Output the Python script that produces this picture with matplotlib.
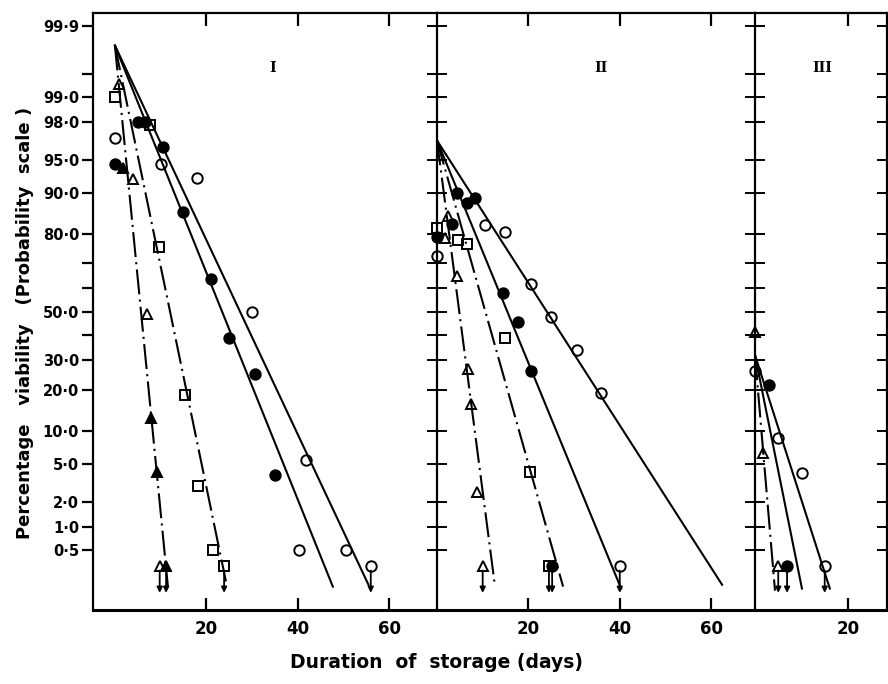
import matplotlib
matplotlib.use("Agg")
import matplotlib.pyplot as plt
import numpy as np
from statistics import NormalDist

# ---- panel I ----
p1_oc_day = [0, 10, 18, 30, 41.8, 40.3, 50.5]
p1_oc_pct = [97, 94.5, 92.6, 50, 5.5, 0.5, 0.5]
p1_oc_zero = [56]
p1_fc_day = [0, 5, 6.6, 10.5, 14.9, 21, 25, 30.6, 35]
p1_fc_pct = [94.5, 98, 98, 96.3, 86, 64, 39, 25, 3.9]
p1_fc_zero = []
p1_os_day = [0, 7.7, 9.6, 15.3, 18.2, 21.4]
p1_os_pct = [99, 97.8, 76, 18.5, 3, 0.5]
p1_os_zero = [23.9]
p1_ot_day = [0.9, 3.9, 7.0]
p1_ot_pct = [99.3, 92.5, 49]
p1_ot_zero = [9.8]
p1_ft_day = [1.75, 7.9, 9.2]
p1_ft_pct = [94, 12.7, 4.2]
p1_ft_zero = [11.2]
# fitted lines: start (day, %) and end (day, %)
p1_start = (0, 99.8)
p1_line_end_day = [55.5, 47.7, 24.3, 11.6]
p1_line_end_pct = [0.16, 0.15, 0.18, 0.15]
p1_line_style = ['solid', 'solid', 'dashdot', 'dashdot']

# ---- panel II ----
p2_oc_day = [0, 10.5, 14.9, 20.6, 24.9, 30.6, 35.9]
p2_oc_pct = [72.6, 82.5, 80.5, 62, 48, 34, 19]
p2_oc_zero = [40]
p2_fc_day = [0, 3.3, 4.4, 6.6, 8.3, 14.4, 17.7, 20.6]
p2_fc_pct = [79, 83, 90, 88, 89, 58, 45.5, 26]
p2_fc_zero = [25.2]
p2_os_day = [0, 4.6, 6.6, 14.9, 20.4]
p2_os_pct = [81.7, 78, 77, 39, 4.2]
p2_os_zero = [24.5]
p2_ot_day = [1.75, 2.4, 4.4, 6.8, 7.4, 8.75]
p2_ot_pct = [78.7, 85, 65, 27, 16, 2.6]
p2_ot_zero = [10]
p2_start = (0, 96.8)
p2_line_end_day = [62.4, 40.3, 27.6, 12.7]
p2_line_end_pct = [0.16, 0.14, 0.15, 0.15]
p2_line_style = ['solid', 'solid', 'dashdot', 'dashdot']

# ---- panel III ----
p3_oc_day = [0, 5, 10.1]
p3_oc_pct = [26, 8.6, 4.1]
p3_oc_zero = [15]
p3_fc_day = [3]
p3_fc_pct = [21.6]
p3_fc_zero = [6.9]
p3_ot_day = [0, 1.7]
p3_ot_pct = [41.5, 6.4]
p3_ot_zero = [5]
p3_start = (0, 32)
p3_line_end_day = [16.1, 10.1, 4.3]
p3_line_end_pct = [0.14, 0.14, 0.13]
p3_line_style = ['solid', 'solid', 'dashdot']

zero_pct = 0.3
y_ticks = [0.5, 1, 2, 5, 10, 20, 30, 40, 50, 60, 70, 80, 90, 95, 98, 99, 99.5, 99.9]
y_labels = ['0·5', '1·0', '2·0', '5·0', '10·0', '20·0', '30·0', '', '50·0', '', '',
            '80·0', '90·0', '95·0', '98·0', '99·0', '', '99·9']

nd = NormalDist()


def probit(p):
    p = np.clip(np.asarray(p, dtype=float) / 100.0, 1e-9, 1 - 1e-9)
    return np.vectorize(nd.inv_cdf, otypes=[float])(p)


def inv_probit(z):
    z = np.asarray(z, dtype=float)
    return np.vectorize(nd.cdf, otypes=[float])(z) * 100.0


marker_style = {
    'oc': dict(marker='o', mfc='none', mec='k'),
    'fc': dict(marker='o', mfc='k', mec='k'),
    'os': dict(marker='s', mfc='none', mec='k'),
    'ot': dict(marker='^', mfc='none', mec='k'),
    'ft': dict(marker='^', mfc='k', mec='k'),
}

fig = plt.figure(figsize=(8.88, 6.84), dpi=100)
bottom = 1 - 610 / 684
height = (610 - 13) / 684
ax1 = fig.add_axes([93 / 888, bottom, (437 - 93) / 888, height])
ax2 = fig.add_axes([437 / 888, bottom, (755 - 437) / 888, height])
ax3 = fig.add_axes([755 / 888, bottom, (887 - 755) / 888, height])

ax1.set_xlim(-4.8, 70.5)
ax2.set_xlim(0, 69.6)
ax3.set_xlim(0, 28.4)


def draw_lines(ax, start, end_day, end_pct, styles):
    for d, p, s in zip(end_day, end_pct, styles):
        ln, = ax.plot([start[0], d], [start[1], p], color='k', lw=1.5, zorder=2)
        if s == 'dashdot':
            ln.set_dashes([12, 2.5, 1, 2.5])


def draw_points(ax, key, days, pcts, zeros):
    st = marker_style[key]
    ax.plot(days, pcts, ls='none', ms=7.5, mew=1.4, zorder=3, clip_on=False, **st)
    if zeros:
        ax.plot(zeros, [zero_pct] * len(zeros), ls='none', ms=7.5, mew=1.4, zorder=3, **st)
        for d in zeros:
            ax.annotate('', xy=(d, 0.12), xytext=(d, 0.26),
                        arrowprops=dict(arrowstyle='-|>', color='k', lw=1.3,
                                        mutation_scale=8, shrinkA=0, shrinkB=0))


draw_lines(ax1, p1_start, p1_line_end_day, p1_line_end_pct, p1_line_style)
draw_points(ax1, 'oc', p1_oc_day, p1_oc_pct, p1_oc_zero)
draw_points(ax1, 'fc', p1_fc_day, p1_fc_pct, p1_fc_zero)
draw_points(ax1, 'os', p1_os_day, p1_os_pct, p1_os_zero)
draw_points(ax1, 'ot', p1_ot_day, p1_ot_pct, p1_ot_zero)
draw_points(ax1, 'ft', p1_ft_day, p1_ft_pct, p1_ft_zero)

draw_lines(ax2, p2_start, p2_line_end_day, p2_line_end_pct, p2_line_style)
draw_points(ax2, 'oc', p2_oc_day, p2_oc_pct, p2_oc_zero)
draw_points(ax2, 'fc', p2_fc_day, p2_fc_pct, p2_fc_zero)
draw_points(ax2, 'os', p2_os_day, p2_os_pct, p2_os_zero)
draw_points(ax2, 'ot', p2_ot_day, p2_ot_pct, p2_ot_zero)

draw_lines(ax3, p3_start, p3_line_end_day, p3_line_end_pct, p3_line_style)
draw_points(ax3, 'oc', p3_oc_day, p3_oc_pct, p3_oc_zero)
draw_points(ax3, 'fc', p3_fc_day, p3_fc_pct, p3_fc_zero)
draw_points(ax3, 'ot', p3_ot_day, p3_ot_pct, p3_ot_zero)

for ax in (ax1, ax2, ax3):
    ax.set_yscale('function', functions=(probit, inv_probit))
    ax.set_ylim(0.064, 99.938)
    ax.set_yticks(y_ticks)
    for sp in ax.spines.values():
        sp.set_linewidth(1.6)
    ax.spines['bottom'].set_linewidth(2.2)
    ax.tick_params(axis='x', which='both', top=True, bottom=True, direction='in',
                   length=9, width=1.6, labelsize=12, pad=7)
    ax.minorticks_off()

ax1.set_xticks([20, 40, 60])
ax2.set_xticks([20, 40, 60])
ax3.set_xticks([20])
for ax in (ax1, ax2, ax3):
    ax.set_xticklabels([str(int(t)) for t in ax.get_xticks()], fontweight='bold', fontsize=12)

ax1.set_yticklabels(y_labels, fontweight='bold', fontsize=10.5)
ax1.tick_params(axis='y', which='both', left=True, right=False, direction='out',
                length=8, width=1.6, pad=2)
ax1.spines['right'].set_visible(False)

ax2.set_yticklabels([])
ax2.tick_params(axis='y', which='both', left=True, right=False, direction='inout',
                length=14, width=1.4)
ax2.spines['right'].set_visible(False)

ax3.set_yticklabels([])
ax3.tick_params(axis='y', which='both', left=True, right=True, direction='inout',
                length=14, width=1.4)

ax1.text(0.523, 0.908, 'I', transform=ax1.transAxes, ha='center', va='center',
         family='DejaVu Serif', fontweight='bold', fontsize=10)
ax2.text(0.516, 0.908, 'II', transform=ax2.transAxes, ha='center', va='center',
         family='DejaVu Serif', fontweight='bold', fontsize=10)
ax3.text(0.51, 0.908, 'III', transform=ax3.transAxes, ha='center', va='center',
         family='DejaVu Serif', fontweight='bold', fontsize=10)

fig.text(0.028, 0.528, 'Percentage   viability   (Probability  scale )', rotation=90,
         ha='center', va='center', fontsize=13, fontweight='bold')
fig.text(0.492, 0.032, 'Duration  of  storage (days)', ha='center', va='center',
         fontsize=13.5, fontweight='bold')

fig.savefig('out.png', dpi=100)
